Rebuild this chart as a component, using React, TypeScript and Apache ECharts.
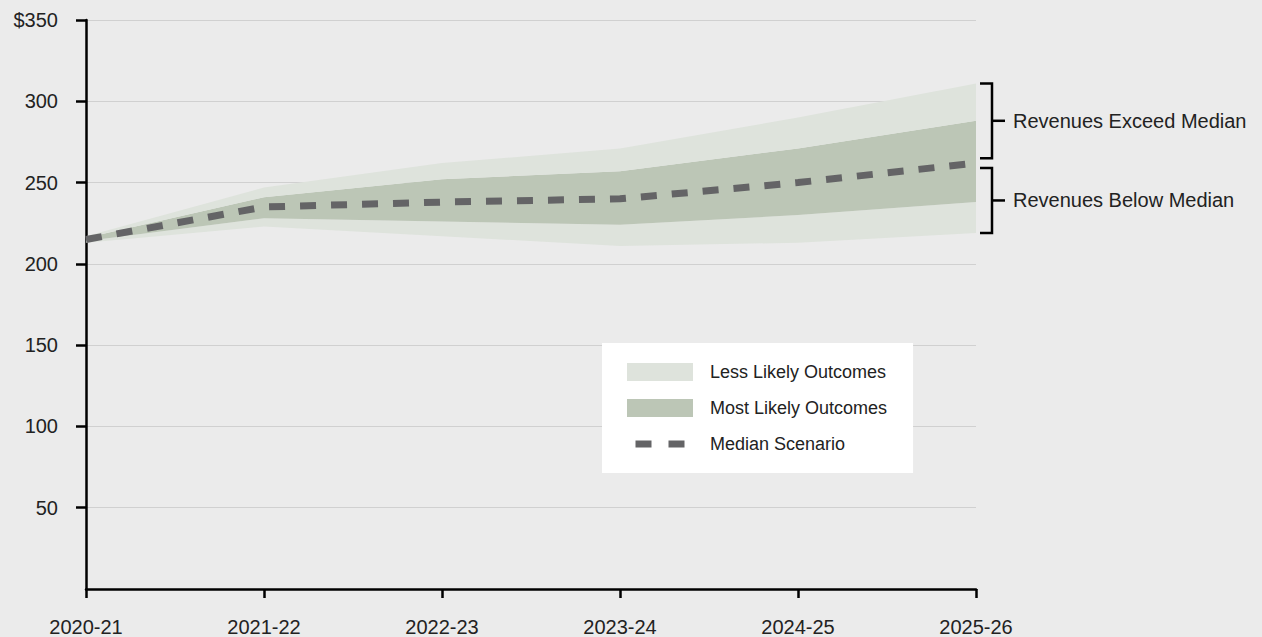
import React, { useEffect, useRef } from "react";
import * as echarts from "echarts";

const categories = ["2020-21", "2021-22", "2022-23", "2023-24", "2024-25", "2025-26"];
const median = [215, 235, 238, 240, 250, 262];
const likelyLow = [214, 228, 226, 224, 230, 238];
const likelyHigh = [216, 241, 252, 257, 271, 288];
const lessLow = [213, 223, 217, 211, 213, 219];
const lessHigh = [217, 247, 262, 271, 290, 311];
const yTickValues = [50, 100, 150, 200, 250, 300, 350];
const bracketLabels = ["Revenues Exceed Median", "Revenues Below Median"];
const bracketGap = 3;

const FONT = "'Liberation Sans', Arial, Helvetica, sans-serif";
const TEXT = "#222222";
const LIGHT = "#dee3dc";
const DARK = "#bcc6b6";
const MEDIAN = "#646466";

const diff = (a: number[], b: number[]) => a.map((v, i) => +(v - b[i]).toFixed(2));

export default function App() {
  const ref = useRef<HTMLDivElement>(null);

  useEffect(() => {
    if (!ref.current) return;
    const chart = echarts.init(ref.current, undefined, { renderer: "svg" });

    const band = (name: string, data: number[], color: string) => ({
      type: "line",
      name,
      data,
      stack: "band",
      symbol: "none",
      silent: true,
      color,
      itemStyle: { color },
      lineStyle: { width: 0, opacity: 0 },
      areaStyle: { color, opacity: 1 },
      z: 1,
    });

    chart.setOption({
      animation: false,
      backgroundColor: "#ebebeb",
      textStyle: { fontFamily: FONT },
      grid: { left: 86, right: 286, top: 20, bottom: 48, containLabel: false },
      legend: {
        orient: "vertical",
        left: 602,
        top: 343,
        backgroundColor: "#ffffff",
        padding: [20, 26, 20, 25],
        itemWidth: 66,
        itemHeight: 18,
        itemGap: 18,
        selectedMode: false,
        itemStyle: { borderWidth: 0 },
        textStyle: { fontSize: 18, color: TEXT, fontFamily: FONT, padding: [0, 0, 0, 12] },
        data: [
          { name: "Less Likely Outcomes", icon: "rect" },
          { name: "Most Likely Outcomes", icon: "rect" },
          {
            name: "Median Scenario",
            icon: "path://M-8.5,-5.5M57.5,12.5M0,0h16v7h-16zM33,0h16v7h-16z",
          },
        ],
      },
      xAxis: {
        type: "category",
        data: categories,
        boundaryGap: false,
        axisLine: { lineStyle: { color: "#000", width: 2.5 } },
        axisTick: { show: true, length: 9, lineStyle: { color: "#000", width: 2.5 } },
        axisLabel: { color: TEXT, fontSize: 20, margin: 28, fontFamily: FONT },
        splitLine: { show: false },
      },
      yAxis: {
        type: "value",
        min: 0,
        max: 350,
        interval: 50,
        axisLine: { show: true, lineStyle: { color: "#000", width: 2.5 } },
        axisTick: {
          show: true,
          length: 10,
          customValues: yTickValues,
          lineStyle: { color: "#000", width: 2.5 },
        },
        axisLabel: {
          color: TEXT,
          fontSize: 20,
          margin: 28,
          fontFamily: FONT,
          customValues: yTickValues,
          formatter: (v: number) => (v === 350 ? "$" + v : String(v)),
        },
        splitLine: { show: true, lineStyle: { color: "#d0d0d0", width: 1 } },
      },
      series: [
        {
          type: "line",
          name: "base",
          data: lessLow,
          stack: "band",
          symbol: "none",
          silent: true,
          lineStyle: { width: 0, opacity: 0 },
          z: 1,
        },
        band("Less Likely Outcomes", diff(likelyLow, lessLow), LIGHT),
        band("Most Likely Outcomes", diff(likelyHigh, likelyLow), DARK),
        band("Less Likely Outcomes", diff(lessHigh, likelyHigh), LIGHT),
        {
          type: "line",
          name: "Median Scenario",
          data: median,
          symbol: "none",
          silent: true,
          color: MEDIAN,
          itemStyle: { color: MEDIAN },
          lineStyle: { color: MEDIAN, width: 7, type: [16, 15], cap: "butt" },
          z: 3,
        },
      ],
    });

    const last = categories.length - 1;
    const px = (v: number) =>
      chart.convertToPixel({ xAxisIndex: 0, yAxisIndex: 0 }, [categories[last], v]) as number[];

    const ranges = [
      [lessHigh[last], median[last] + bracketGap],
      [median[last] - bracketGap, lessLow[last]],
    ];
    const elements: any[] = [];
    ranges.forEach((r, i) => {
      const a = px(r[0]);
      const b = px(r[1]);
      const x = a[0];
      const yTop = a[1];
      const yBot = b[1];
      const mid = (yTop + yBot) / 2;
      elements.push({
        type: "polyline",
        shape: { points: [[x + 4, yTop], [x + 16, yTop], [x + 16, yBot], [x + 4, yBot]] },
        style: { stroke: "#000", lineWidth: 2.5, fill: null },
        silent: true,
      });
      elements.push({
        type: "line",
        shape: { x1: x + 16, y1: mid, x2: x + 29, y2: mid },
        style: { stroke: "#000", lineWidth: 2.5 },
        silent: true,
      });
      elements.push({
        type: "text",
        x: x + 37,
        y: mid,
        style: {
          text: bracketLabels[i],
          fill: TEXT,
          fontSize: 20,
          fontFamily: FONT,
          verticalAlign: "middle",
          align: "left",
        },
        silent: true,
      });
    });
    chart.setOption({ graphic: elements });

    return () => chart.dispose();
  }, []);

  return (
    <div
      ref={ref}
      style={{ position: "fixed", left: 0, top: 0, width: 1262, height: 637, background: "#ebebeb" }}
    />
  );
}
